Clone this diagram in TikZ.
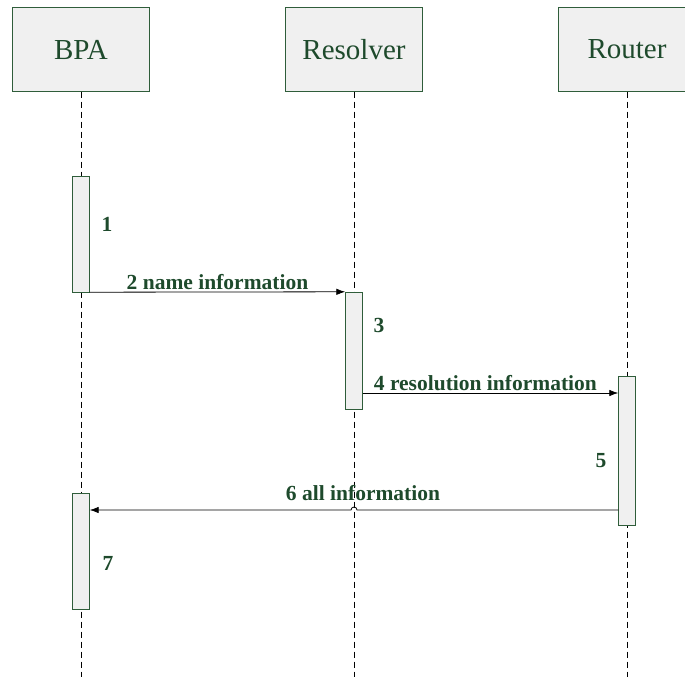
\documentclass[tikz,border=0pt]{standalone}
\usepackage{fontspec}
\setmainfont{Liberation Serif}
\usetikzlibrary{arrows.meta}
\definecolor{lineGreen}{HTML}{2F5D3A}
\definecolor{textGreen}{HTML}{1E4A2C}
\definecolor{boxGray}{HTML}{F0F0F0}
\begin{document}
\begin{tikzpicture}[x=1pt,y=-1pt,
		actor/.style={draw=lineGreen, fill=boxGray, minimum width=137pt, minimum height=84pt, inner sep=0pt, text=textGreen, font=\fontsize{29}{32}\selectfont},
		bar/.style={draw=lineGreen, fill=boxGray, minimum width=17pt, inner sep=0pt},
		lifeline/.style={dash pattern=on 6pt off 4pt, line width=0.7pt},
		msg/.style={text=textGreen, font=\fontsize{21.5}{24}\selectfont\bfseries},
		call/.style={-{Latex[length=9pt,width=6.5pt]}, line width=0.8pt}]
		\useasboundingbox (0,0) rectangle (685,677);
		\foreach \x/\n/\t in {81/bpa/BPA, 354/res/Resolver, 627/rtr/Router}{
			\node[actor] (\n) at (\x,49.5) {\t};
			\draw[lifeline] (\n.south) -- (\x,677);
		}
		
		\node[bar, minimum height=116pt] (a1) at (81,234) {};
		\node[bar, minimum height=117pt] (a3) at (354,350.5) {};
		\node[bar, minimum height=149pt] (a5) at (627,450.5) {};
		\node[bar, minimum height=116pt] (a7) at (81,551) {};
		
		\node[msg] (l1) at (107,224) {1};
		\node[msg] (l3) at (379,325) {3};
		\node[msg] (l5) at (601,461) {5};
		\node[msg] (l7) at (108,563) {7};
		
		\draw[call] (a1.south east) -- node[msg, midway, above, yshift=-1pt]{2 name information} (a3.north west);
		\draw[call] (a3.east |- 0,393) -- node[msg, pos=0.48, above, yshift=-1pt]{4 resolution information} (a5.west |- 0,393);
		\draw[call] (a5.west |- 0,510) -- (357,510) arc[start angle=0, end angle=180, radius=3pt] -- (a7.east |- 0,510);
		\node[msg] (l6) at (363,493) {6 all information};
	\end{tikzpicture}
\end{document}
